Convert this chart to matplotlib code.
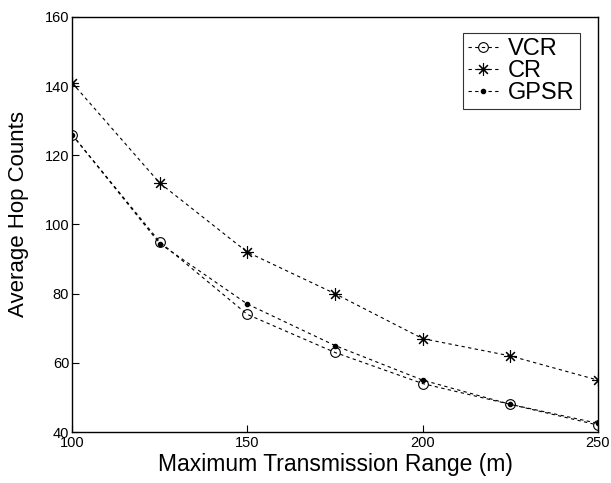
import matplotlib
matplotlib.use("Agg")
import matplotlib.pyplot as plt

plt.rcParams['font.family'] = ['Liberation Sans', 'DejaVu Sans']

ranges = [100, 125, 150, 175, 200, 225, 250]
vcr = [126, 95, 74, 63, 54, 48, 42]
cr = [141, 112, 92, 80, 67, 62, 55]
gpsr = [126, 94.5, 77, 65, 55, 48, 42.5]
xticks = [100, 150, 200, 250]
yticks = [40, 60, 80, 100, 120, 140, 160]

fig = plt.figure(figsize=(6.11, 4.83), dpi=100)
ax = fig.add_axes([72/611, 51/483, 526/611, 415/483])

ax.plot(ranges, vcr, linestyle=(0, (3, 3)), color='black', linewidth=0.8,
        marker='o', markersize=7, markerfacecolor='none', markeredgewidth=0.8, label='VCR')
ax.plot(ranges, cr, linestyle=(0, (3, 3)), color='black', linewidth=0.8,
        marker=(8, 2, 0), markersize=9, markeredgewidth=0.8, label='CR')
ax.plot(ranges, gpsr, linestyle=(0, (3, 3)), color='black', linewidth=0.8,
        marker='.', markersize=6, label='GPSR')

ax.set_xlim(100, 250)
ax.set_ylim(40, 160)
ax.set_xticks(xticks)
ax.set_yticks(yticks)
ax.tick_params(direction='in', length=5, labelsize=10.5, width=0.8)
ax.tick_params(axis='y', pad=2)
ax.tick_params(axis='x', pad=3)
for s in ax.spines.values():
    s.set_linewidth(1.0)

ax.set_xlabel('Maximum Transmission Range (m)', fontsize=16.5, labelpad=2)
ax.set_ylabel('Average Hop Counts', fontsize=16)
ax.yaxis.set_label_coords(-0.082, 0.525)

leg = ax.legend(loc='upper right', bbox_to_anchor=(0.965, 0.961), borderaxespad=0,
                fontsize=17, frameon=True, fancybox=False, edgecolor='black',
                handlelength=1.3, borderpad=0.2, labelspacing=0.0,
                handletextpad=0.4, handleheight=0.7)
leg.get_frame().set_linewidth(0.8)

fig.savefig('out.png', dpi=100)
